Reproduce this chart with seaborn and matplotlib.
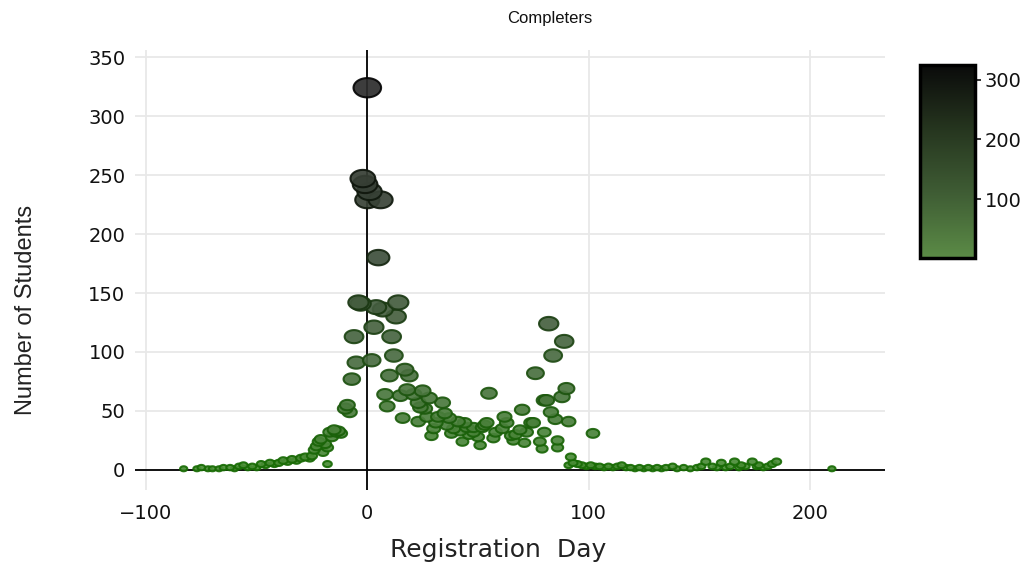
import numpy as np
import pandas as pd
import matplotlib
matplotlib.use("Agg")
import matplotlib.pyplot as plt
import seaborn as sns
from matplotlib.colors import LinearSegmentedColormap, Normalize
from matplotlib.cm import ScalarMappable
from matplotlib.path import Path
from matplotlib import font_manager

# Registration day (relative to term start) and number of completing students
day = [
    -83, -77, -75, -72, -70, -67, -65, -62, -60, -58, -56, -54, -52, -50, -48,
    -46, -44, -42, -40, -38, -36, -34, -32, -30, -28, -26, -25, -24, -23, -22,
    -21, -20, -19, -18, -18, -17, -16, -15, -14, -13, -12, -10, -9, -8,
    -7, -6, -5, -4, -3, -2, -1, 0, 0, 1, 2, 3, 4, 5, 6, 7, 8, 9, 10, 11, 12,
    13, 14, 15, 16, 17, 18, 19, 21, 23, 23, 24, 25, 26, 27, 28, 29, 30, 31,
    32, 34, 35, 36, 37, 38, 39, 41, 42, 43, 44, 45, 46, 48, 48, 50, 51, 52,
    53, 54, 55, 57, 58, 61, 62, 63, 65, 66, 67, 69, 70, 71, 72, 74, 75, 76,
    78, 79, 80, 80, 81, 82, 83, 84, 85, 86, 86, 88, 89, 90, 91,
    91, 92, 93, 95, 97, 99, 101, 102, 103, 105, 107, 109, 111, 113, 115, 117,
    119, 121, 123, 125, 127, 129, 131, 133, 135, 138, 140, 143, 146, 149, 151,
    153, 156, 158, 160, 162, 164, 166, 168, 169, 171, 174, 176, 177, 179, 181,
    183, 185, 210,
]
students = [
    1, 1, 2, 1, 1, 1, 2, 2, 1, 3, 4, 2, 3, 2, 5,
    4, 6, 5, 6, 8, 7, 9, 8, 10, 11, 10, 12, 17, 20, 24,
    26, 15, 22, 19, 5, 32, 28, 34, 32, 33, 31, 52, 55, 49,
    77, 113, 91, 142, 141, 247, 242, 324, 229, 236, 93, 121, 138, 180, 229, 136, 64, 54, 80, 113, 97,
    130, 142, 63, 44, 85, 68, 80, 64, 41, 57, 53, 67, 52, 45, 61, 29, 35, 40,
    45, 57, 48, 38, 44, 31, 35, 41, 33, 24, 40, 36, 30, 32, 36, 28, 21, 36,
    38, 40, 65, 27, 32, 35, 45, 40, 29, 25, 30, 34, 51, 23, 32, 40, 40, 82,
    24, 18, 32, 59, 59, 124, 49, 97, 43, 25, 19, 62, 109, 69, 41,
    4, 11, 6, 5, 4, 3, 4, 31, 3, 3, 2, 3, 2, 3, 4, 2,
    2, 1, 2, 1, 2, 1, 2, 1, 2, 3, 1, 2, 1, 2, 3,
    7, 3, 2, 6, 2, 3, 7, 2, 4, 3, 7, 3, 4, 2, 3,
    5, 7, 1,
]

x_ticks = [-100, 0, 100, 200]
y_ticks = [0, 50, 100, 150, 200, 250, 300, 350]
cbar_ticks = [100, 200, 300]

title_text = "Completers"
x_label = "Registration  Day"
y_label = "Number of Students"

sns.set_theme(style="white")
plt.rcParams["font.family"] = ["DejaVu Sans"]

available = {f.name for f in font_manager.fontManager.ttflist}
narrow = "Liberation Sans Narrow" if "Liberation Sans Narrow" in available else "Liberation Sans"

df = pd.DataFrame({"day": day, "students": students})
df = df.sort_values("students", kind="stable").reset_index(drop=True)

vmin, vmax = 1, 325
norm = Normalize(vmin, vmax)

face_cmap = LinearSegmentedColormap.from_list(
    "face", [(0, "#4a8e36"), (0.3, "#4a6a42"), (0.6, "#3c4a3a"), (1, "#2c2c2c")])
edge_cmap = LinearSegmentedColormap.from_list(
    "edge", [(0, "#186c04"), (0.3, "#1f4a14"), (0.6, "#142010"), (1, "#050505")])
bar_cmap = LinearSegmentedColormap.from_list(
    "bar", [(0, "#5b8b46"), (0.33, "#3f5d34"), (0.66, "#26361f"), (1, "#0a0a0a")])

# Elliptical marker, wider than tall
theta = np.linspace(0, 2 * np.pi, 64)
ellipse = Path(np.column_stack([np.cos(theta), 0.7 * np.sin(theta)]), closed=True)

# Marker width grows with the square root of the count
px_to_pt = 0.72
size_map = {v: max((6.8 + 1.2 * np.sqrt(v)) * px_to_pt - 0.6, 3.0) ** 2
            for v in sorted(set(students))}

fig = plt.figure(figsize=(10.35, 5.67), dpi=100)
ax = fig.add_axes([135 / 1035, 1 - 490 / 567, 750 / 1035, 440 / 567])

sns.scatterplot(
    data=df, x="day", y="students", hue="students", palette=face_cmap,
    hue_norm=norm, size="students", sizes=size_map, marker=ellipse,
    linewidth=1.5, alpha=0.92, legend=False, ax=ax, zorder=3,
)
pts = ax.collections[-1]
pts.set_edgecolor(edge_cmap(norm(df["students"].to_numpy())))

ax.set_xlim(-105, 234)
ax.set_ylim(-17, 356)
ax.set_xticks(x_ticks)
ax.set_yticks(y_ticks)
ax.set_xticklabels([f"{t:d}".replace("-", "\u2212") for t in x_ticks])
ax.grid(True, color="#e8e8e8", linewidth=1.3, zorder=0)
ax.axhline(0, color="black", linewidth=1.3, zorder=2)
ax.axvline(0, color="black", linewidth=1.3, zorder=2)
for s in ax.spines.values():
    s.set_visible(False)
ax.tick_params(axis="both", length=0, labelsize=14, colors="#111111")
ax.tick_params(axis="x", pad=10)
ax.tick_params(axis="y", pad=7)

ax.set_xlabel(x_label, fontsize=18, color="#222222", va="center")
ax.xaxis.set_label_coords((498 - 135) / 750, -(550 - 490) / 440)
ax.set_ylabel(y_label, fontsize=17, color="#222222", family=[narrow, "DejaVu Sans"],
              va="center")
ax.yaxis.set_label_coords(-(135 - 26) / 750, (490 - 310) / 440)

fig.text(550 / 1035, 1 - 18 / 567, title_text, ha="center", va="center",
         fontsize=12, family=[narrow, "DejaVu Sans"], color="#111111")

cax = fig.add_axes([920 / 1035, 1 - 258 / 567, 55 / 1035, 193 / 567])
cb = fig.colorbar(ScalarMappable(norm=norm, cmap=bar_cmap), cax=cax)
cb.set_ticks(cbar_ticks)
cb.outline.set_linewidth(2.5)
cb.outline.set_edgecolor("black")
cax.tick_params(length=4, width=1.2, labelsize=14, pad=3, colors="#111111")

fig.savefig("out.png", dpi=100)
